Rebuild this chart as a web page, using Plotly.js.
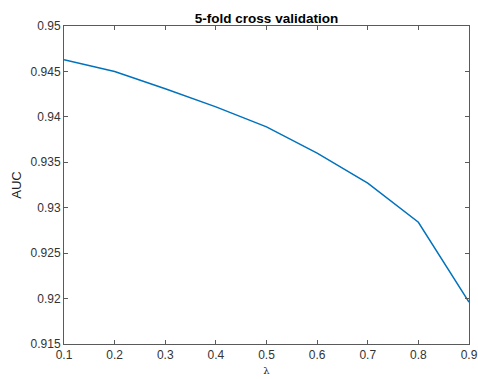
<!DOCTYPE html>
<html>
<head>
<meta charset="utf-8">
<script src="https://cdn.plot.ly/plotly-3.0.1.min.js"></script>
<style>html,body{margin:0;padding:0;background:#fff;}#chart{width:478px;height:379px;}</style>
</head>
<body>
<div id="chart"></div>
<script>
const lambdaValues = [0.1, 0.2, 0.3, 0.4, 0.5, 0.6, 0.7, 0.8, 0.9];
const aucValues = [0.9463, 0.9450, 0.9431, 0.9411, 0.9389, 0.9360, 0.9327, 0.9284, 0.9196];
const xTicks = [0.1, 0.2, 0.3, 0.4, 0.5, 0.6, 0.7, 0.8, 0.9];
const yTicks = [0.915, 0.92, 0.925, 0.93, 0.935, 0.94, 0.945, 0.95];

const trace = {
  x: lambdaValues, y: aucValues, type: 'scatter', mode: 'lines',
  line: {color: '#0072BD', width: 1.5}, hoverinfo: 'skip'
};
const axisCommon = {
  showgrid: false, zeroline: false, showline: true, linecolor: '#5a5a5a', linewidth: 1,
  mirror: 'ticks', ticks: 'inside', ticklen: 4, tickcolor: '#5a5a5a',
  tickfont: {family: 'Liberation Sans, Arial, sans-serif', size: 12, color: '#333'}
};
const layout = {
  width: 478, height: 379,
  margin: {l: 64, r: 9, t: 26, b: 35},
  paper_bgcolor: '#fff', plot_bgcolor: '#fff',
  showlegend: false,
  title: {text: '<b>5-fold cross validation</b>', x: 0.5, xref: 'paper', yref: 'container', y: 1 - 18.5/379, yanchor: 'middle',
          font: {family: 'Liberation Sans, Arial, sans-serif', size: 13.5, color: '#000'}},
  xaxis: Object.assign({}, axisCommon, {
    range: [0.1, 0.9], tickvals: xTicks, ticktext: xTicks.map(String),
    title: {text: 'λ', standoff: 5, font: {family: 'DejaVu Serif, serif', size: 10, color: '#222'}}
  }),
  yaxis: Object.assign({}, axisCommon, {
    range: [0.915, 0.95], tickvals: yTicks, ticktext: yTicks.map(String),
    title: {text: 'AUC', standoff: 6, font: {family: 'Liberation Sans, Arial, sans-serif', size: 13, color: '#222'}}
  })
};
Plotly.newPlot('chart', [trace], layout, {staticPlot: true, displayModeBar: false});
</script>
</body>
</html>
